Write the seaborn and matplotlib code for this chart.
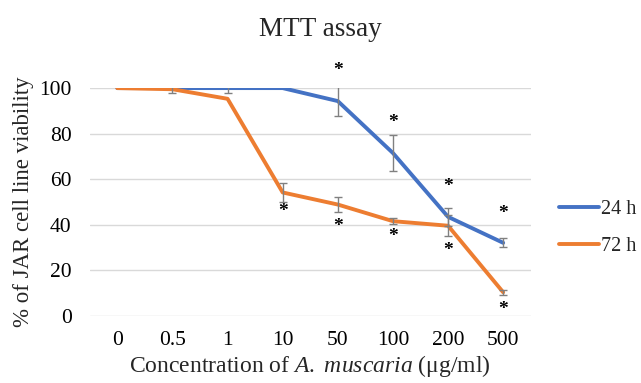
import matplotlib
matplotlib.use("Agg")
import matplotlib.pyplot as plt
import seaborn as sns
import pandas as pd
import numpy as np
from matplotlib.lines import Line2D

concentrations = ["0", "0.5", "1", "10", "50", "100", "200", "500"]
viab_24h = [100, 100, 100, 100, 94.3, 71.5, 43.5, 32.1]
err_24h = [0, 2.2, 2.0, 0, 6.6, 7.7, 4.0, 1.9]
viab_72h = [100, 99.5, 95.3, 54.2, 48.9, 41.6, 39.6, 10.4]
err_72h = [0, 0, 0, 4.2, 3.1, 1.4, 4.5, 1.0]
# significance star positions (y value) per concentration, None = no star
star_24h = [None, None, None, None, 107.5, 85.0, 57.0, 45.0]
star_72h = [None, None, None, 46.0, 39.4, 35.0, 28.6, 3.0]
series_names = ["24 h", "72 h"]
colors = ["#4472C4", "#ED7D31"]

df = pd.DataFrame({
    "conc": concentrations * 2,
    "viability": viab_24h + viab_72h,
    "series": [series_names[0]] * len(concentrations) + [series_names[1]] * len(concentrations),
})

sns.set_style("white")
plt.rcParams["font.family"] = ["Liberation Serif", "DejaVu Serif"]
plt.rcParams["mathtext.fontset"] = "custom"
plt.rcParams["mathtext.rm"] = "Liberation Serif"
plt.rcParams["mathtext.it"] = "Liberation Serif:italic"

fig = plt.figure(figsize=(6.41, 3.83), dpi=100)
ax = fig.add_axes([0.140, 0.175, 0.688, 0.595])

sns.lineplot(data=df, x="conc", y="viability", hue="series", palette=colors,
             linewidth=2.8, ax=ax, legend=False, sort=False, zorder=3)

xpos = np.arange(len(concentrations))
for vals, errs in [(viab_24h, err_24h), (viab_72h, err_72h)]:
    e = np.array(errs, dtype=float)
    mask = e > 0
    ax.errorbar(xpos[mask], np.array(vals)[mask], yerr=e[mask], fmt="none",
                ecolor="#808080", elinewidth=1.0, capsize=3, capthick=1.0, zorder=4)

for stars in [star_24h, star_72h]:
    for x, s in zip(xpos, stars):
        if s is not None:
            ax.text(x, s, "*", ha="center", va="center", fontsize=14,
                    fontweight="bold", color="black", clip_on=False)

ax.set_xlim(-0.5, len(concentrations) - 0.5)
ax.set_ylim(0, 100)
ax.set_yticks([0, 20, 40, 60, 80, 100])
ax.grid(axis="y", color="#D9D9D9", linewidth=1.0)
ax.grid(axis="x", visible=False)
for sp in ax.spines.values():
    sp.set_visible(False)
ax.tick_params(axis="both", length=0, labelsize=15.5, labelcolor="#000000")
ax.tick_params(axis="x", pad=11)
ax.tick_params(axis="y", pad=13)

ax.set_xlabel("Concentration of $\\it{A.}$ $\\it{muscaria}$ (μg/ml)", fontsize=17, labelpad=2)
ax.set_ylabel("% of JAR cell line viability", fontsize=16.5, labelpad=4)
fig.suptitle("MTT assay", fontsize=19.5, x=0.5, y=0.955)

handles = [Line2D([0], [0], color=c, linewidth=2.8) for c in colors]
fig.legend(handles, series_names, loc="center left", bbox_to_anchor=(0.872, 0.405),
           frameon=False, fontsize=14.5, handlelength=2.0, handletextpad=0.1,
           labelspacing=0.9, borderpad=0, borderaxespad=0)

fig.savefig("out.png", dpi=100)
